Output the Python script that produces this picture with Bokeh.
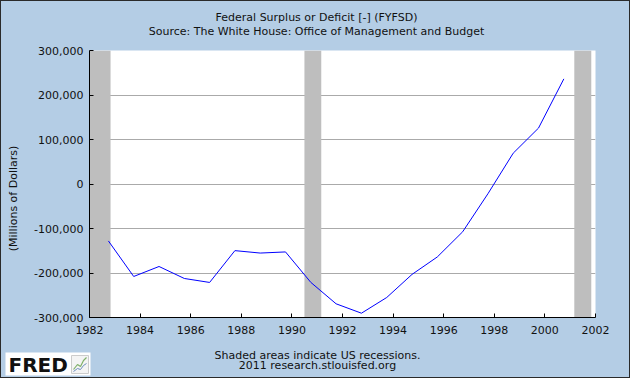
import math
import pandas as pd
from bokeh.plotting import figure
from bokeh.layouts import column, row
from bokeh.models import (Label, FixedTicker, DatetimeTickFormatter,
                          NumeralTickFormatter, Range1d, ColumnDataSource)
from bokeh.embed import file_html
from bokeh.resources import INLINE

# ---------------- data ----------------
title_line1 = "Federal Surplus or Deficit [-] (FYFSD)"
title_line2 = "Source: The White House: Office of Management and Budget"
y_label = "(Millions of Dollars)"
footer_line1 = "Shaded areas indicate US recessions."
footer_line2 = "2011 research.stlouisfed.org"
logo_text = "FRED"

dates = ["1982-10-01", "1983-10-01", "1984-10-01", "1985-10-01", "1986-10-01",
         "1987-10-01", "1988-10-01", "1989-10-01", "1990-10-01", "1991-10-01",
         "1992-10-01", "1993-10-01", "1994-10-01", "1995-10-01", "1996-10-01",
         "1997-10-01", "1998-10-01", "1999-10-01", "2000-10-01"]
values = [-127977, -207802, -185367, -212308, -221227,
          -149730, -155178, -152639, -221036, -269238,
          -290321, -255051, -203186, -163952, -107431,
          -21884, 69270, 125610, 236241]

rec_start = ["1981-07-01", "1990-07-01", "2001-03-01"]
rec_end = ["1982-11-01", "1991-03-01", "2001-11-01"]

x_tick_years = [1982, 1984, 1986, 1988, 1990, 1992, 1994, 1996, 1998, 2000, 2002]
y_ticks = [-300000, -200000, -100000, 0, 100000, 200000, 300000]

# ---------------- styling ----------------
BG = "#B4CDE5"
FONT = "DejaVu Sans"
FS = "11px"
TXT = "#111111"
W = 628
SIDE_W = 30
MAIN_H = 301


def text_strip(width, height):
    """A plain strip figure whose frame fills it; y counts pixels downwards."""
    f = figure(width=width, height=height, output_backend="svg", toolbar_location=None,
               x_range=Range1d(0, width), y_range=Range1d(height, 0),
               x_axis_location=None, y_axis_location=None,
               min_border=0, min_border_left=0, min_border_right=0,
               min_border_top=0, min_border_bottom=0, frame_align=False)
    f.grid.visible = False
    f.outline_line_color = None
    f.background_fill_color = BG
    f.border_fill_color = BG
    return f


def put(f, txt, x, y, **kw):
    opts = dict(text_font=FONT, text_font_size=FS, text_color=TXT,
                text_align="center", text_baseline="middle")
    opts.update(kw)
    f.add_layout(Label(x=x, y=y, text=txt, **opts))


# header
head = text_strip(W, 40)
put(head, title_line1, 315, 16)
put(head, title_line2, 315, 30)

# left strip with the y-axis title
side = text_strip(SIDE_W, MAIN_H)
put(side, y_label, 12, 157, angle=math.pi / 2)

# main chart
x0 = pd.Timestamp(f"{x_tick_years[0]}-01-01")
x1 = pd.Timestamp(f"{x_tick_years[-1]}-01-01")

p = figure(width=W - SIDE_W, height=MAIN_H, x_axis_type="datetime",
           output_backend="svg", toolbar_location=None, title=None,
           x_range=Range1d(x0, x1),
           y_range=Range1d(y_ticks[0], y_ticks[-1]),
           min_border_left=87 - SIDE_W, min_border_right=34,
           min_border_top=9, min_border_bottom=25, frame_align=False)
p.background_fill_color = "white"
p.border_fill_color = BG
p.outline_line_color = None

rs = [max(pd.Timestamp(d), x0) for d in rec_start]
re_ = [min(pd.Timestamp(d), x1) for d in rec_end]
rec_src = ColumnDataSource(dict(left=rs, right=re_,
                                bottom=[y_ticks[0]] * len(rs),
                                top=[y_ticks[-1]] * len(rs)))
p.quad(left="left", right="right", bottom="bottom", top="top", source=rec_src,
       fill_color="#BEBEBE", line_color=None)

src = ColumnDataSource(dict(x=pd.to_datetime(dates), y=values))
p.line("x", "y", source=src, line_color="#0000FF", line_width=1)

p.xaxis.ticker = FixedTicker(ticks=[pd.Timestamp(f"{y}-01-01").value / 1e6 for y in x_tick_years])
p.xaxis.formatter = DatetimeTickFormatter(years="%Y", months="%Y", days="%Y",
                                          hours="%Y", minutes="%Y", seconds="%Y",
                                          milliseconds="%Y", microseconds="%Y")
p.yaxis.ticker = FixedTicker(ticks=y_ticks)
p.yaxis.formatter = NumeralTickFormatter(format="0,0")
for ax in (p.xaxis, p.yaxis):
    ax.axis_line_color = "black"
    ax.axis_line_width = 1
    ax.major_tick_line_color = "black"
    ax.major_tick_in = 4
    ax.major_tick_out = 0
    ax.minor_tick_line_color = None
    ax.major_label_text_font = FONT
    ax.major_label_text_font_size = FS
    ax.major_label_text_color = TXT
p.yaxis.major_label_standoff = 6
p.xaxis.major_label_standoff = 8

p.xgrid.grid_line_color = None
p.ygrid.grid_line_color = "#AAAAAA"
p.ygrid.grid_line_width = 1

# footer
foot = text_strip(W, 35)
put(foot, footer_line1, 316, 13)
put(foot, footer_line2, 316, 23)
# FRED logo: white plate, word mark and a small chart icon
foot.quad(left=[4], right=[89], top=[10], bottom=[33], fill_color="white", line_color=None)
foot.quad(left=[70], right=[87], top=[13], bottom=[31], fill_color="#F4F4F4",
          line_color="#CCCCCC", line_width=1)
foot.line(x=[72, 76, 79, 82, 85], y=[27, 22, 24, 18, 15], line_color="#7FB069", line_width=1.2)
foot.line(x=[72, 76, 79, 82, 85], y=[29, 26, 27, 23, 21], line_color="#6C8EBF", line_width=1)
put(foot, logo_text, 7, 22, text_align="left", text_font_size="20px",
    text_font_style="bold")

layout = column(head, row(side, p, spacing=0), foot, spacing=0)
layout.styles = {"border": "1px solid #2a2a2a", "background-color": BG}

open("out.html", "w").write(file_html(layout, INLINE))
